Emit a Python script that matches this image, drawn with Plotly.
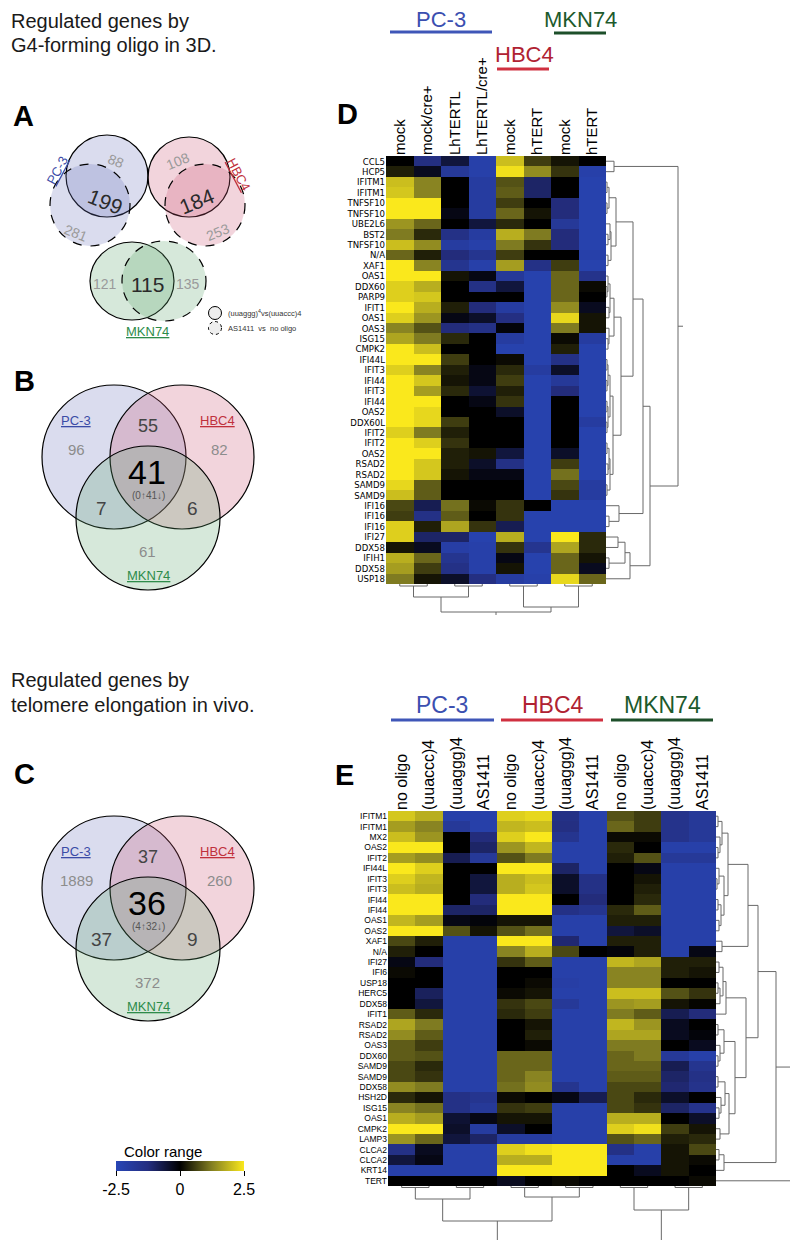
import plotly.graph_objects as go

W, H = 798, 1240
FONT = "Liberation Sans, Arial, sans-serif"
NARROW = "Liberation Sans Narrow, Arial Narrow, DejaVu Sans Condensed, Liberation Sans, Arial, sans-serif"

# ---------------- data ----------------
D_genes = ["CCL5", "HCP5", "IFITM1", "IFITM1", "TNFSF10", "TNFSF10", "UBE2L6", "BST2", "TNFSF10", "N/A",
           "XAF1", "OAS1", "DDX60", "PARP9", "IFIT1", "OAS1", "OAS3", "ISG15", "CMPK2", "IFI44L",
           "IFIT3", "IFI44", "IFIT3", "IFI44", "OAS2", "DDX60L", "IFIT2", "IFIT2", "OAS2", "RSAD2",
           "RSAD2", "SAMD9", "SAMD9", "IFI16", "IFI16", "IFI16", "IFI27", "DDX58", "IFIH1", "DDX58", "USP18"]
D_cols = ["mock", "mock/cre+", "LhTERTL", "LhTERTL/cre+", "mock", "hTERT", "mock", "hTERT"]
D_vals = [
    [0.0, -1.3, -0.6, -2.2, 2.0, 0.6, 0.2, 0.0],
    [0.3, -0.3, -1.8, -2.2, 2.4, 1.4, 0.5, -2.2],
    [2.0, 1.3, 0.0, -2.0, 0.8, -1.0, 0.0, -2.3],
    [2.1, 1.3, 0.0, -2.0, 0.9, -1.0, 0.0, -2.3],
    [2.5, 2.5, 0.0, -2.0, 0.6, 0.0, -1.2, -2.3],
    [2.5, 2.5, -0.2, -2.0, 1.0, 0.2, -1.2, -2.3],
    [1.5, 1.0, 0.0, -0.6, 0.4, 0.0, -1.8, -2.3],
    [1.2, 0.4, -1.4, -2.0, 1.8, 1.2, -1.2, -2.3],
    [2.0, 1.4, -2.0, -2.2, 1.2, 0.5, -1.2, -2.3],
    [1.0, 0.3, -1.2, -1.6, 0.6, 0.0, 0.0, -2.2],
    [2.5, 1.3, -1.6, -2.2, 1.6, -1.4, 0.6, -2.3],
    [2.5, 2.5, 0.2, -0.2, -1.8, -2.3, 1.0, -1.5],
    [2.2, 1.8, 0.0, -1.4, -0.6, -2.3, 1.0, 0.1],
    [2.2, 2.1, 0.0, 0.0, 0.0, -2.3, 1.0, 0.0],
    [2.5, 1.8, 0.3, -1.2, -2.0, -2.3, 1.4, -0.3],
    [2.2, 1.5, -0.2, -0.4, -1.3, -2.3, 2.3, 0.2],
    [1.3, 0.8, -1.2, -1.4, -0.1, -2.3, 1.2, 0.2],
    [1.7, 1.2, 0.4, 0.0, -2.0, -2.3, 0.1, -2.0],
    [2.5, 2.0, 0.0, 0.0, -2.3, -2.3, 0.3, -2.3],
    [2.5, 2.5, 0.6, 0.0, 0.1, -2.3, -1.4, -2.3],
    [2.2, 1.3, 0.3, -0.2, 0.4, -2.0, -0.4, -2.3],
    [2.5, 2.1, 0.2, -0.2, 0.6, -2.3, -1.8, -2.3],
    [2.5, 1.6, 0.4, -0.5, 0.3, -2.3, -1.2, -2.3],
    [2.5, 2.5, 0.0, -0.2, 0.5, -2.3, 0.0, -2.3],
    [2.5, 2.3, 0.0, 0.0, -0.4, -2.3, 0.0, -2.3],
    [2.5, 2.3, 0.6, 0.0, 0.0, -2.3, 0.0, -2.0],
    [2.2, 1.2, 0.3, 0.0, 0.0, -2.3, 0.0, -2.3],
    [2.5, 2.2, 0.5, 0.0, 0.0, -2.3, 0.0, -2.3],
    [2.5, 2.5, 0.3, 0.2, -0.6, -2.3, -0.4, -2.3],
    [2.5, 2.1, 0.3, -0.4, -1.4, -2.3, 0.6, -2.3],
    [2.5, 2.1, 0.2, -0.2, -0.2, -2.3, 1.1, -2.3],
    [2.3, 0.9, 0.0, 0.0, 0.0, -2.3, 0.7, -2.0],
    [2.0, 0.9, 0.0, 0.0, 0.0, -2.3, 0.5, -2.0],
    [0.7, -0.8, 1.1, 0.1, 0.5, 0.0, -2.3, -2.3],
    [0.6, -1.4, 0.9, 0.0, 0.5, -2.3, -2.3, -2.3],
    [2.2, 0.3, 1.7, 0.5, -0.8, -2.3, -2.3, -2.3],
    [2.2, -1.0, -1.0, -2.3, 1.8, -2.3, 2.5, 0.4],
    [0.2, -0.3, -2.1, -2.2, 0.5, -1.6, 1.7, 0.4],
    [1.8, 1.0, -1.6, -2.2, -0.2, -2.3, 1.0, 0.2],
    [1.6, 0.6, -1.4, -2.2, 0.2, -2.3, 1.0, -0.3],
    [1.2, 0.2, -0.4, -1.3, -2.0, -2.2, 2.3, 1.0],
]

E_genes = ["IFITM1", "IFITM1", "MX2", "OAS2", "IFIT2", "IFI44L", "IFIT3", "IFIT3", "IFI44", "IFI44",
           "OAS1", "OAS2", "XAF1", "N/A", "IFI27", "IFI6", "USP18", "HERC5", "DDX58", "IFIT1",
           "RSAD2", "RSAD2", "OAS3", "DDX60", "SAMD9", "SAMD9", "DDX58", "HSH2D", "ISG15", "OAS1",
           "CMPK2", "LAMP3", "CLCA2", "CLCA2", "KRT14", "TERT"]
E_cols = ["no oligo", "(uuaccc)4", "(uuaggg)4", "AS1411"] * 3
E_vals = [
    [2.1, 1.8, -2.2, -2.2, 2.2, 2.3, -1.4, -2.2, 0.8, 0.6, -1.5, -1.8],
    [1.6, 1.3, -1.8, -2.2, 1.9, 2.0, -1.3, -2.2, 1.0, 0.6, -1.5, -1.8],
    [2.0, 1.5, 0.0, -1.2, 2.2, 2.5, -1.6, -2.2, 0.1, 0.1, -1.5, -1.8],
    [2.5, 2.5, 0.0, -1.0, 1.5, 1.9, -2.2, -2.2, 0.4, 0.0, -2.2, -2.2],
    [1.6, 1.4, -0.8, -1.8, 0.8, 1.2, -2.2, -2.2, 0.3, 0.8, -1.8, -1.8],
    [2.5, 2.2, 0.0, 0.0, 2.5, 2.5, -1.0, -2.2, 0.0, -0.2, -2.2, -2.2],
    [2.2, 1.9, 0.0, -0.6, 1.8, 2.0, -0.4, -1.4, 0.0, 0.2, -2.2, -2.2],
    [2.0, 1.8, 0.0, -0.6, 1.8, 2.1, -0.4, -1.4, 0.0, 0.3, -2.2, -2.2],
    [2.5, 2.5, 0.0, -1.2, 2.5, 2.5, 0.0, -1.2, 0.0, 0.4, -2.2, -2.2],
    [2.5, 2.5, -1.0, -1.0, 2.5, 2.5, -1.4, -1.6, 0.4, 0.9, -2.2, -2.2],
    [1.9, 1.6, -0.2, -0.1, 0.2, 0.2, -2.2, -2.2, 0.3, 0.3, -2.2, -2.2],
    [2.5, 2.5, 0.8, 0.2, 0.8, 1.1, -2.2, -2.2, -0.6, -0.4, -2.2, -2.2],
    [0.7, 0.3, -2.2, -2.2, 2.5, 2.5, -1.1, -2.2, 0.3, 0.3, -2.2, -2.2],
    [0.3, 0.0, -2.2, -2.2, 1.3, 1.8, 0.7, 0.0, -0.1, 0.3, -2.2, -0.2],
    [-0.2, -1.2, -2.2, -2.2, 0.5, 0.9, -2.2, -2.2, 1.9, 1.7, 0.3, 0.3],
    [0.1, 0.0, -2.2, -2.2, 0.0, 0.0, -2.2, -2.2, 1.3, 1.3, 0.3, 0.2],
    [0.0, 0.0, -2.2, -2.2, 0.0, 0.1, -2.1, -2.2, 1.3, 1.3, 0.0, 0.0],
    [0.0, -0.9, -2.2, -2.2, 0.1, 0.2, -2.2, -2.2, 2.0, 2.0, 0.8, 0.5],
    [0.0, -0.6, -2.2, -2.2, 0.5, 0.7, -1.8, -2.2, 1.5, 1.6, 0.2, 0.05],
    [0.9, 0.4, -2.2, -2.2, 0.4, 0.6, -2.2, -2.2, 1.2, 0.9, -0.8, -1.2],
    [1.7, 1.2, -2.2, -2.2, 0.0, 0.2, -2.2, -2.2, 1.9, 1.5, -0.3, 0.0],
    [1.4, 0.9, -2.2, -2.2, 0.0, 0.3, -2.2, -2.2, 1.7, 1.7, -0.3, -0.1],
    [0.9, 0.6, -2.2, -2.2, 0.0, 0.1, -2.2, -2.2, 1.2, 1.2, 0.0, -0.3],
    [0.9, 0.8, -2.2, -2.2, 1.0, 1.0, -2.2, -2.2, 1.0, 1.2, -1.8, -2.2],
    [0.7, 0.4, -2.2, -2.2, 1.0, 1.0, -2.2, -2.2, 1.0, 1.0, -0.8, -1.6],
    [0.7, 0.5, -2.2, -2.2, 1.0, 1.3, -2.2, -2.2, 0.9, 0.9, -1.0, -1.4],
    [1.4, 1.2, -2.2, -2.2, 1.1, 1.4, -1.6, -2.2, 0.7, 0.7, -1.1, -1.5],
    [0.4, 0.2, -1.4, -1.6, 0.1, 0.0, -0.2, -0.8, 0.7, 0.4, -0.4, 0.0],
    [1.3, 1.1, -1.4, -1.8, 0.5, 0.6, -2.2, -2.2, 0.7, 0.5, -1.0, -1.5],
    [1.8, 1.6, -0.5, -0.2, 0.2, 0.2, -2.2, -2.2, 1.8, 1.8, 0.0, -0.4],
    [2.5, 2.5, -0.4, -2.0, -0.4, 0.0, -2.2, -2.2, 2.2, 2.4, 0.6, 0.2],
    [1.5, 1.0, -0.6, -1.0, -2.0, -2.0, -2.2, -2.2, 0.8, 1.0, 0.3, 0.4],
    [-1.4, -0.3, -2.2, -2.2, 2.2, 2.4, 2.5, 2.5, -1.4, -2.2, 0.2, 0.7],
    [-0.6, -0.2, -2.2, -2.2, 1.8, 1.8, 2.5, 2.5, -2.2, -2.2, 0.2, 0.1],
    [-2.2, -2.2, -2.2, -2.2, 2.5, 2.5, 2.5, 2.5, 0.0, -0.3, 0.2, 0.0],
    [0.0, 0.0, 0.0, 0.0, -0.3, 0.0, 0.1, 0.0, 0.0, 0.0, 0.0, 0.1],
]

# dendrogram trees: [left, right, merge height]
D_row_tree = [[0, 1, 8],
              [[[[[[2, 3, 1], [4, 5, 1], 3], [[6, [7, 8, 2], 4], [9, 10, 2], 5], 10],
                 [[[[11, [12, 13, 1], 2], [14, 15, 3], 4], [16, [17, 18, 2], 3], 8],
                  [[[[19, 20, 1], [21, 22, 1], 2], [[23, 24, 1], [25, 26, 1], 2], 4],
                   [[[27, 28, 1], [29, 30, 2], 3], [31, 32, 1], 4], 7], 15], 27],
                [33, [34, 35, 3], 13], 37],
               [[[36, 37, 12], [38, 39, 3], 19], 40, 24], 44], 72]
D_col_tree = [[[0, 1, 2], [2, 3, 2], 13], [[4, 5, 2], [6, 7, 2], 23], 28]

E_row_tree = [[[[[[[0, 1, 2], [2, [3, 4, 2], 4], 6],
                  [[5, [6, 7, 1], 3], [[8, 9, 2], [10, 11, 3], 5], 8], 12],
                 [12, 13, 6], 32],
                [[[[14, 15, 3], [[16, 17, 2], 18, 4], 7], 19, 10],
                 [[[20, 21, 2], [22, [23, 24, 2], 4], 8],
                  [[[25, 26, 2], [27, [28, 29, 3], 5], 9], [30, 31, 4], 13], 19], 30], 42],
               [[32, 33, 3], 34, 8], 60], 35, 84]
E_col_tree = [[[[0, 1, 1.5], [2, 3, 1.5], 13], [[4, 5, 1.5], [6, 7, 1.5], 11], 35],
              [[8, 9, 1.5], [10, 11, 1.5], 24], 55]

venn_A = {"PC-3": (88, 199, 281), "HBC4": (108, 184, 253), "MKN74": (121, 115, 135)}
venn_B = {"pc3": 96, "hbc4": 82, "mkn": 61, "pc3_hbc4": 55, "pc3_mkn": 7, "hbc4_mkn": 6,
          "all": 41, "all_detail": "(0↑41↓)"}
venn_C = {"pc3": 1889, "hbc4": 260, "mkn": 372, "pc3_hbc4": 37, "pc3_mkn": 37, "hbc4_mkn": 9,
          "all": 36, "all_detail": "(4↑32↓)"}

cbar_ticks = [-2.5, 0, 2.5]

# ---------------- helpers ----------------
def px(x):
    return x / W


def py(y):
    return 1 - y / H


def dendro(tree):
    segs = []

    def rec(node):
        if isinstance(node, int):
            return float(node), 0.0
        l, r, h = node
        pl, hl = rec(l)
        pr, hr = rec(r)
        segs.append([(pl, hl), (pl, h), (pr, h), (pr, hr)])
        return (pl + pr) / 2, h

    pos, h = rec(tree)
    return segs, pos, h


def dendro_xy(tree, stem, orient):
    segs, pos, h = dendro(tree)
    segs.append([(pos, h), (pos, h + stem)])
    xs, ys = [], []
    for s in segs:
        for p, hh in s:
            if orient == "row":
                xs.append(hh); ys.append(p)
            else:
                xs.append(p); ys.append(hh)
        xs.append(None); ys.append(None)
    return xs, ys


CS = [[0, "rgb(40,70,182)"], [0.25, "rgb(36,46,128)"], [0.5, "rgb(0,0,0)"],
      [0.75, "rgb(132,128,34)"], [1, "rgb(250,232,28)"]]
DCOL = "rgb(105,105,105)"

fig = go.Figure()

# heatmap D
fig.add_trace(go.Heatmap(
    z=D_vals, x=list(range(len(D_cols))), y=list(range(len(D_genes))),
    colorscale=CS, zmin=-2.5, zmax=2.5, xaxis="x", yaxis="y", hoverinfo="skip",
    showscale=True,
    colorbar=dict(orientation="h", x=px(172), xanchor="center", y=py(1153), yanchor="top",
                  len=128, lenmode="pixels", thickness=10, thicknessmode="pixels",
                  xpad=0, ypad=0,
                  tickvals=cbar_ticks, ticktext=[str(t) for t in cbar_ticks], ticks="outside",
                  ticklen=5, tickcolor="black", outlinewidth=0,
                  tickfont=dict(family=FONT, size=16, color="black"))))

# heatmap E
fig.add_trace(go.Heatmap(
    z=E_vals, x=list(range(len(E_cols))), y=list(range(len(E_genes))),
    colorscale=CS, zmin=-2.5, zmax=2.5, xaxis="x4", yaxis="y4", hoverinfo="skip", showscale=False))

# dendrograms
for tree, stem, orient, xa, ya in [(D_row_tree, 5, "row", "x2", "y2"),
                                   (D_col_tree, 3, "col", "x3", "y3"),
                                   (E_row_tree, 5, "row", "x5", "y5"),
                                   (E_col_tree, 5, "col", "x6", "y6")]:
    xs, ys = dendro_xy(tree, stem, orient)
    fig.add_trace(go.Scatter(x=xs, y=ys, mode="lines", line=dict(color=DCOL, width=1),
                             xaxis=xa, yaxis=ya, hoverinfo="skip", showlegend=False))

# overlay pixel axis trace
fig.add_trace(go.Scatter(x=[0], y=[0], mode="markers", marker=dict(opacity=0), xaxis="x7", yaxis="y7",
                         hoverinfo="skip", showlegend=False))

hidden = dict(visible=False, showgrid=False, zeroline=False, fixedrange=True)

D_top, D_bot, D_l, D_r = 148, 576, 378, 598
E_top, E_bot, E_l, E_r = 803, 1178, 380, 708

layout = dict(
    width=W, height=H, margin=dict(l=0, r=0, t=0, b=0),
    paper_bgcolor="white", plot_bgcolor="rgba(0,0,0,0)", showlegend=False,
    font=dict(family=FONT, color="black"),
    xaxis=dict(domain=[px(D_l), px(D_r)], range=[-0.5, 7.5], anchor="y", side="top",
               tickvals=list(range(8)), ticktext=D_cols, tickangle=-90, ticks="",
               tickfont=dict(family=FONT, size=15, color="black"), showgrid=False, zeroline=False,
               showline=False, fixedrange=True),
    yaxis=dict(domain=[py(D_bot), py(D_top)], range=[40.5, -0.5], anchor="x",
               tickvals=list(range(len(D_genes))), ticktext=D_genes, ticks="",
               tickfont=dict(family=NARROW, size=9.5, color="black"), showgrid=False, zeroline=False,
               showline=False, fixedrange=True),
    xaxis2=dict(domain=[px(D_r), px(D_r + 82)], range=[0, 82], anchor="y2", **hidden),
    yaxis2=dict(domain=[py(D_bot), py(D_top)], range=[40.5, -0.5], anchor="x2", **hidden),
    xaxis3=dict(domain=[px(D_l), px(D_r)], range=[-0.5, 7.5], anchor="y3", **hidden),
    yaxis3=dict(domain=[py(D_bot + 40), py(D_bot)], range=[40, 0], anchor="x3", **hidden),
    xaxis4=dict(domain=[px(E_l), px(E_r)], range=[-0.5, 11.5], anchor="y4", side="top",
                tickvals=list(range(12)), ticktext=E_cols, tickangle=-90, ticks="",
                tickfont=dict(family=FONT, size=16, color="black"), showgrid=False, zeroline=False,
                showline=False, fixedrange=True),
    yaxis4=dict(domain=[py(E_bot), py(E_top)], range=[35.5, -0.5], anchor="x4",
                tickvals=list(range(len(E_genes))), ticktext=E_genes, ticks="",
                tickfont=dict(family=FONT, size=8.5, color="black"), showgrid=False, zeroline=False,
                showline=False, fixedrange=True),
    xaxis5=dict(domain=[px(E_r), px(E_r + 90)], range=[0, 90], anchor="y5", **hidden),
    yaxis5=dict(domain=[py(E_bot), py(E_top)], range=[35.5, -0.5], anchor="x5", **hidden),
    xaxis6=dict(domain=[px(E_l), px(E_r)], range=[-0.5, 11.5], anchor="y6", **hidden),
    yaxis6=dict(domain=[0, py(E_bot)], range=[62, 0], anchor="x6", **hidden),
    xaxis7=dict(domain=[0, 1], range=[0, W], anchor="y7", **hidden),
    yaxis7=dict(domain=[0, 1], range=[H, 0], anchor="x7", **hidden),
)
fig.update_layout(**layout)

shapes = []
ann = []


def text(x, y, t, size, color="black", angle=0, xa="center", ya="middle", fam=FONT):
    ann.append(dict(x=x, y=y, xref="x7", yref="y7", text=t, showarrow=False, textangle=angle,
                    xanchor=xa, yanchor=ya, font=dict(family=fam, size=size, color=color)))


def ell(cx, cy, rx, ry, fill, dash="solid", lw=1.2):
    shapes.append(dict(type="circle", xref="x7", yref="y7", x0=cx - rx, x1=cx + rx, y0=cy - ry, y1=cy + ry,
                       fillcolor=fill, line=dict(color="black", width=lw, dash=dash), layer="above"))


def hline(x0, x1, y, color, w=3):
    shapes.append(dict(type="line", xref="x7", yref="y7", x0=x0, x1=x1, y0=y, y1=y,
                       line=dict(color=color, width=w)))


BLUE_F = "rgba(107,115,187,0.25)"
PINK_F = "rgba(203,83,115,0.25)"
GREEN_F = "rgba(91,163,107,0.25)"
C_PC3 = "#3b4ba6"
C_HBC = "#c0303c"
C_MKN = "#2e8b4a"
GRAY = "#8c8c8c"
DARK = "#2a2a2a"

# titles and panel letters
text(1, 13, "Regulated genes by", 20, "#1a1a1a", xa="left")
text(1, 37, "G4-forming oligo in 3D.", 20, "#1a1a1a", xa="left")
text(1, 672, "Regulated genes by", 20, "#1a1a1a", xa="left")
text(1, 697, "telomere elongation in vivo.", 20, "#1a1a1a", xa="left")
for lt, x, y in [("A", 3, 108), ("B", 4, 373), ("C", 4, 766), ("D", 327, 106), ("E", 325, 767)]:
    text(x, y, "<b>%s</b>" % lt, 29, "black", xa="left")

# Venn A
ell(99, 168, 41, 41, BLUE_F)
ell(82, 197, 40, 41, BLUE_F, "dash")
ell(181, 169, 41, 40, PINK_F)
ell(197, 197, 40, 41, PINK_F, "dash")
ell(124, 273, 42, 39, GREEN_F)
ell(156, 273, 42, 40, GREEN_F, "dash")
a1, a2, a3 = venn_A["PC-3"]
text(108, 153, str(a1), 14, "#9a9a9a", 22)
text(97, 193, str(a2), 21, DARK, 22)
text(68, 225, str(a3), 14, "#9a9a9a", 22)
b1, b2, b3 = venn_A["HBC4"]
text(170, 153, str(b1), 14, "#9a9a9a", -22)
text(188, 193, str(b2), 21, DARK, -22)
text(210, 224, str(b3), 14, "#9a9a9a", -22)
c1, c2, c3 = venn_A["MKN74"]
text(97, 276, str(c1), 14, "#9a9a9a")
text(139, 276, str(c2), 21, DARK)
text(180, 276, str(c3), 14, "#9a9a9a")
text(49, 162, "<u>PC-3</u>", 13, C_PC3, -62)
text(231, 166, "<u>HBC4</u>", 13, C_HBC, 62)
text(139, 323, "<u>MKN74</u>", 13, C_MKN)
ell(207, 305, 6.5, 6.5, "rgb(238,238,238)", lw=1)
ell(207, 320, 6.5, 6.5, "rgb(238,238,238)", "dot", lw=1)
text(218, 305, "(uuaggg)<sup>4</sup>vs(uuaccc)4", 7.5, "#333", xa="left")
text(218, 320, "AS1411  vs  no oligo", 7.5, "#333", xa="left")


def venn3(v, cy):
    ell(106, cy, 72, 72, BLUE_F)
    ell(174, cy, 72, 72, PINK_F)
    ell(140, cy + 61, 72, 72, GREEN_F)
    text(68, cy - 37, "<u>PC-3</u>", 13, C_PC3)
    text(209, cy - 37, "<u>HBC4</u>", 13, C_HBC)
    text(68, cy - 8, str(v["pc3"]), 15, GRAY)
    text(211, cy - 8, str(v["hbc4"]), 15, GRAY)
    text(140, cy - 31, str(v["pc3_hbc4"]), 18, "#444")
    text(139, cy + 15, str(v["all"]), 34, "black")
    text(140, cy + 38, v["all_detail"], 10, "#555")
    text(93, cy + 51, str(v["pc3_mkn"]), 19, "#444")
    text(184, cy + 51, str(v["hbc4_mkn"]), 19, "#444")
    text(139, cy + 94, str(v["mkn"]), 15, GRAY)
    text(140, cy + 118, "<u>MKN74</u>", 13, C_MKN)


venn3(venn_B, 449)
venn3(venn_C, 880)

# colorbar title
text(114, 1143, "Color range", 15, "black", xa="left")

# group headers D
text(433, 11, "PC-3", 22, "#3b4fb0")
hline(382, 484, 24, "#3f56b8")
text(572, 11, "MKN74", 22, "#1d5a2c")
hline(546, 598, 25, "#1d4f2a")
text(516, 46, "HBC4", 22, "#b02232")
hline(489, 541, 61, "#d03040")

# group headers E
text(434, 697, "PC-3", 23, "#3b4fb0")
hline(383, 486, 712, "#3f56b8")
text(545, 697, "HBC4", 23, "#b02232")
hline(493, 595, 712, "#d03040")
text(654, 697, "MKN74", 23, "#1d5a2c")
hline(603, 705, 712, "#1d4f2a")

fig.update_layout(shapes=shapes, annotations=ann)
fig.write_html("out.html")
